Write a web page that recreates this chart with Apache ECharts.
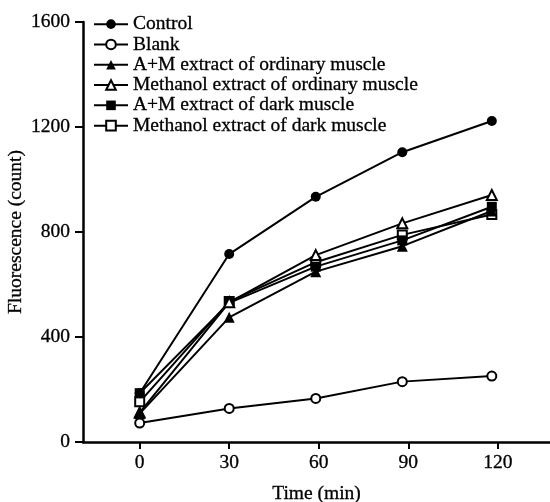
<!DOCTYPE html>
<html>
<head>
<meta charset="utf-8">
<script src="https://cdn.jsdelivr.net/npm/echarts@6/dist/echarts.min.js"></script>
<style>html,body{margin:0;padding:0;background:#fff}#c{width:550px;height:502px}</style>
</head>
<body>
<div id="c"></div>
<script>
var times = [0, 30, 59, 88, 118];
var xTicks = [0, 30, 60, 90, 120];
var yTicks = [0, 400, 800, 1200, 1600];
var seriesNames = ['Control', 'Blank', 'A+M extract of ordinary muscle', 'Methanol extract of ordinary muscle', 'A+M extract of dark muscle', 'Methanol extract of dark muscle'];
var control = [186, 716, 934, 1104, 1223];
var blank = [72, 128, 166, 230, 251];
var amOrdinary = [108, 475, 649, 746, 880];
var methOrdinary = [112, 532, 712, 833, 941];
var amDark = [186, 530, 668, 768, 896];
var methDark = [153, 535, 685, 789, 867];

var values = [control, blank, amOrdinary, methOrdinary, amDark, methDark];
var symbols = ['circle', 'circle', 'triangle', 'triangle', 'rect', 'rect'];
var filled = [true, false, true, false, true, false];
var sizes = [10, 9, 11, 10, 10, 9];

var FONT = 'Liberation Serif';
var TXT = { fontFamily: FONT, fontSize: 19.5, color: '#000', textBorderColor: '#000', textBorderWidth: 0.3 };
function txt(extra) { return Object.assign({}, TXT, extra || {}); }

var series = seriesNames.map(function (n, i) {
  return {
    name: n,
    type: 'line',
    data: times.map(function (t, j) { return [t, values[i][j]]; }),
    symbol: symbols[i],
    symbolSize: sizes[i],
    showAllSymbol: true,
    lineStyle: { color: '#000', width: 2 },
    itemStyle: { color: filled[i] ? '#000' : '#fff', borderColor: '#000', borderWidth: filled[i] ? 0 : 2 },
    emphasis: { disabled: true },
    z: 10 - i
  };
});

var chart = echarts.init(document.getElementById('c'), null, { renderer: 'canvas' });
chart.setOption({
  animation: false,
  backgroundColor: '#fff',
  textStyle: { fontFamily: FONT, color: '#000' },
  grid: { left: 83, right: 0, top: 22, bottom: 60, containLabel: false, outerBoundsMode: 'none' },
  legend: {
    orient: 'vertical', left: 88, top: 9,
    itemWidth: 34, itemHeight: 12, itemGap: 0,
    data: seriesNames,
    textStyle: txt()
  },
  xAxis: {
    type: 'value', min: -19, max: 137.5,
    name: 'Time (min)', nameLocation: 'middle', nameGap: 42, nameMoveOverlap: false,
    nameTextStyle: txt(),
    axisLine: { show: true, onZero: false, lineStyle: { color: '#000', width: 2.5 } },
    axisTick: { show: true, length: 7, lineStyle: { color: '#000', width: 2 }, customValues: xTicks },
    axisLabel: txt({ margin: 11, customValues: xTicks }),
    splitLine: { show: false }
  },
  yAxis: {
    type: 'value', min: 0, max: 1600, interval: 400,
    name: 'Fluorescence (count)', nameLocation: 'middle', nameGap: 57, nameMoveOverlap: false,
    nameTextStyle: txt(),
    axisLine: { show: true, onZero: false, lineStyle: { color: '#000', width: 2.5 } },
    axisTick: { show: true, length: 8, lineStyle: { color: '#000', width: 2 } },
    axisLabel: txt({ margin: 13, formatter: function (v) { return String(v); } }),
    splitLine: { show: false }
  },
  series: series
});
</script>
</body>
</html>
